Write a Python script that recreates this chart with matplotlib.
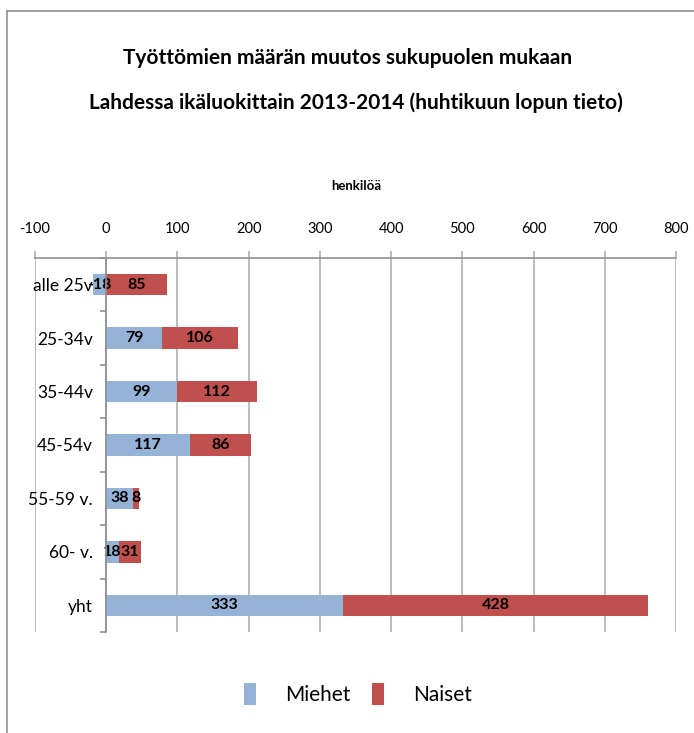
import matplotlib.pyplot as plt
from matplotlib.lines import Line2D
import numpy as np

plt.rcParams['font.family'] = ['Lato', 'DejaVu Sans']
plt.rcParams['axes.unicode_minus'] = False

# data
categories = ['alle 25v', '25-34v', '35-44v', '45-54v', '55-59 v.', '60- v.', 'yht']
miehet = [-18, 79, 99, 117, 38, 18, 333]
naiset = [85, 106, 112, 86, 8, 31, 428]
xticks = [-100, 0, 100, 200, 300, 400, 500, 600, 700, 800]

blue = '#95B3D7'
red = '#C0504D'
grid_c = '#B0B0B0'
axis_c = '#909090'

fig = plt.figure(figsize=(6.94, 7.33), dpi=100)
ax = fig.add_axes([35 / 694, 1 - 632 / 733, 641 / 694, 374 / 733])

y = np.arange(len(categories))
h = 0.4
ax.barh(y, miehet, height=h, color=blue, label='Miehet', zorder=3)
# naiset stacked after positive part of miehet
left_n = [max(m, 0) for m in miehet]
ax.barh(y, naiset, left=left_n, height=h, color=red, label='Naiset', zorder=3)

for i in range(len(categories)):
    ax.text(miehet[i] / 2, y[i], str(miehet[i]), ha='center', va='center',
            fontsize=11.5, fontweight='bold', zorder=4)
    ax.text(left_n[i] + naiset[i] / 2, y[i], str(naiset[i]), ha='center', va='center',
            fontsize=11.5, fontweight='bold', zorder=4)

ax.set_xlim(-100, 800)
ax.set_ylim(len(categories) - 0.5, -0.5)
ax.xaxis.tick_top()
ax.set_xticks(xticks)
ax.tick_params(axis='x', length=5, color=grid_c, width=1.2, pad=11, labelsize=10.5)
ax.grid(axis='x', color=grid_c, linewidth=1.2, zorder=0)

ax.set_yticks(y)
ax.set_yticklabels(categories)
ax.set_yticks(np.arange(len(categories) + 1) - 0.5, minor=True)
ax.tick_params(axis='y', which='major', length=0, pad=9.5, labelsize=12.5)
ax.tick_params(axis='y', which='minor', length=4.3, color=axis_c, width=1.2)

for s in ['right', 'bottom']:
    ax.spines[s].set_visible(False)
ax.spines['left'].set_position(('data', 0))
ax.spines['left'].set_color(axis_c)
ax.spines['left'].set_linewidth(1.2)
ax.spines['left'].set_zorder(5)
ax.spines['top'].set_color(axis_c)
ax.spines['top'].set_linewidth(1.2)

fig.text(356 / 694, 1 - 186 / 733, 'henkilöä', ha='center', va='center',
         fontsize=9.5, fontweight='bold')

fig.text(348 / 694, 1 - 58 / 733, 'Työttömien määrän muutos sukupuolen mukaan',
         ha='center', va='center', fontsize=15, fontweight='bold')
fig.text(356 / 694, 1 - 103 / 733, 'Lahdessa ikäluokittain 2013-2014 (huhtikuun lopun tieto)',
         ha='center', va='center', fontsize=15, fontweight='bold')

fig.legend(loc='center', bbox_to_anchor=(358 / 694, 1 - 694 / 733), ncol=2, frameon=False,
           fontsize=15, handlelength=0.6, handleheight=1.25, columnspacing=1.0,
           handletextpad=1.4)

# outer frame
fig.add_artist(Line2D([7 / 694, 1], [1 - 11 / 733, 1 - 11 / 733], color=axis_c,
                      linewidth=1.2, transform=fig.transFigure))
fig.add_artist(Line2D([7 / 694, 7 / 694], [0, 1 - 11 / 733], color=axis_c,
                      linewidth=1.2, transform=fig.transFigure))

fig.savefig('out.png', dpi=100)
